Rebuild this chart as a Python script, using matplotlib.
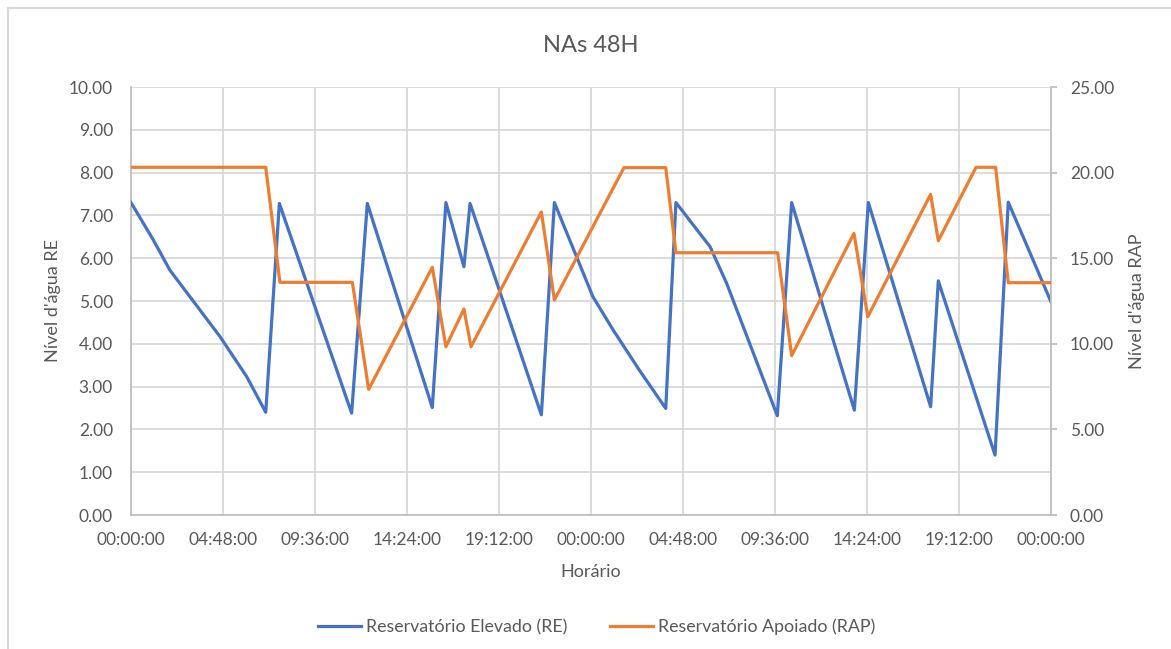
import matplotlib
matplotlib.use("Agg")
import matplotlib.pyplot as plt
from matplotlib.lines import Line2D
import numpy as np

# ---- data (hours since start, levels) ----
re_time = [0.0, 1.16, 2.03, 4.64, 6.04, 7.03, 7.74, 11.51, 12.33, 15.72, 16.43,
           17.37, 17.69, 21.41, 22.09, 24.1, 25.16, 26.5, 27.90, 28.43, 30.21,
           31.08, 33.72, 34.47, 37.74, 38.47, 41.72, 42.12, 45.08, 45.77, 48.0]
re_level = [7.30, 6.43, 5.72, 4.17, 3.23, 2.40, 7.28, 2.38, 7.28, 2.51, 7.30,
            5.80, 7.28, 2.34, 7.30, 5.10, 4.32, 3.40, 2.49, 7.30, 6.27,
            5.41, 2.32, 7.30, 2.45, 7.30, 2.53, 5.47, 1.40, 7.31, 4.98]

rap_time = [0.0, 7.03, 7.77, 11.55, 12.40, 15.72, 16.43, 17.37, 17.74, 21.41,
            22.09, 25.72, 27.90, 28.43, 33.74, 34.47, 37.72, 38.44, 41.72,
            42.12, 44.09, 45.11, 45.77, 48.0]
rap_level = [20.31, 20.31, 13.59, 13.59, 7.34, 14.47, 9.83, 12.03, 9.83, 17.70,
             12.56, 20.29, 20.29, 15.32, 15.32, 9.31, 16.45, 11.58, 18.73,
             16.02, 20.31, 20.31, 13.57, 13.57]

x_tick_labels = ["00:00:00", "04:48:00", "09:36:00", "14:24:00", "19:12:00",
                 "00:00:00", "04:48:00", "09:36:00", "14:24:00", "19:12:00",
                 "00:00:00"]

BLUE = "#4472C4"
ORANGE = "#ED7D31"
TXT = "#595959"
GRID = "#D9D9D9"
SPINE = "#BFBFBF"

plt.rcParams['font.family'] = ['Lato', 'DejaVu Sans']

W, H = 1171, 649
fig = plt.figure(figsize=(W / 100, H / 100), dpi=100)
L, R, T, B = 131, 1051, 87, 515
ax = fig.add_axes([L / W, 1 - B / H, (R - L) / W, (B - T) / H])
ax2 = ax.twinx()

ax.plot(re_time, re_level, color=BLUE, lw=2.3, solid_joinstyle='round',
        label="Reservatório Elevado (RE)", zorder=3)
ax2.plot(rap_time, rap_level, color=ORANGE, lw=2.3, solid_joinstyle='round',
         label="Reservatório Apoiado (RAP)", zorder=3)

ax.set_xlim(0, 48)
ax.set_ylim(0, 10)
ax2.set_ylim(0, 25)
ax.set_xticks(np.arange(11) * 4.8)
ax.set_xticklabels(x_tick_labels)
ax.set_yticks(np.arange(0, 11, 1))
ax.set_yticklabels([f"{v:.2f}" for v in np.arange(0, 11, 1)])
ax2.set_yticks(np.arange(0, 26, 5))
ax2.set_yticklabels([f"{v:.2f}" for v in np.arange(0, 26, 5)])

ax.grid(True, color=GRID, lw=1.3)
ax.set_axisbelow(True)
ax.tick_params(axis='x', length=0, pad=12, labelsize=12.5, labelcolor=TXT)
ax.tick_params(axis='y', length=0, pad=13, labelsize=12.5, labelcolor=TXT)
ax2.tick_params(axis='y', length=4.5, width=1.3, color=SPINE, pad=9,
                labelsize=12.5, labelcolor=TXT)

for a in (ax, ax2):
    a.spines['top'].set_visible(False)
    for s in ('left', 'right', 'bottom'):
        a.spines[s].set_color(SPINE)
        a.spines[s].set_linewidth(1.3)
ax.spines['right'].set_visible(False)
ax2.spines['left'].set_visible(False)
ax2.spines['bottom'].set_visible(False)

ax.set_xlabel("Horário", fontsize=13, color=TXT)
ax.xaxis.set_label_coords((591 - L) / (R - L), -(572 - B) / (B - T))
ax.xaxis.label.set(va='center', ha='center')
ax.set_ylabel("Nível d'água RE", fontsize=13, color=TXT)
ax.yaxis.set_label_coords((53 - L) / (R - L), 0.5)
ax.yaxis.label.set(va='center', ha='center', rotation_mode='default')
ax2.set_ylabel("Nível d'água RAP", fontsize=13, color=TXT)
ax2.yaxis.set_label_coords((1137 - L) / (R - L), 0.5)
ax2.yaxis.label.set(va='center', ha='center', rotation_mode='default')

fig.text(591 / W, 1 - 45 / H, "NAs 48H", fontsize=17, color=TXT,
         ha='center', va='center', fontweight='normal')

h1, l1 = ax.get_legend_handles_labels()
h2, l2 = ax2.get_legend_handles_labels()
leg = fig.legend(h1 + h2, l1 + l2, loc='center', ncol=2,
                 bbox_to_anchor=(597 / W, 1 - 627 / H), frameon=False,
                 fontsize=12.8, handlelength=2.4, handletextpad=0.3,
                 columnspacing=2.4)
for t in leg.get_texts():
    t.set_color(TXT)

# outer chart frame
fig.add_artist(Line2D([8 / W, 8 / W], [0, 1 - 8 / H], color=GRID, lw=1.5,
                      transform=fig.transFigure))
fig.add_artist(Line2D([8 / W, 1], [1 - 8 / H, 1 - 8 / H], color=GRID, lw=1.5,
                      transform=fig.transFigure))

fig.savefig("out.png", dpi=100, facecolor='white')
